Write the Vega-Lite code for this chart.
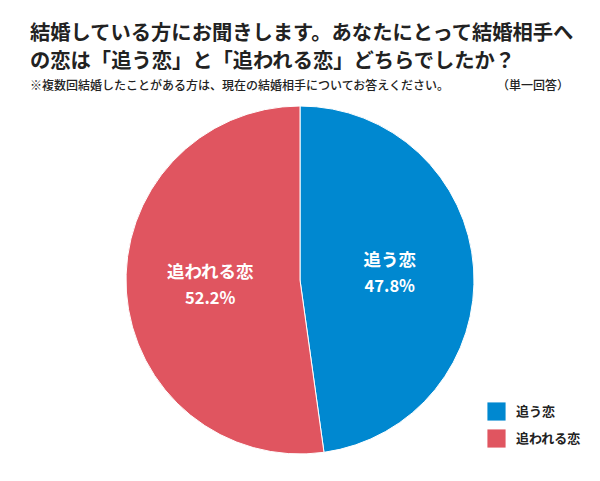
{
  "$schema": "https://vega.github.io/schema/vega-lite/v6.json",
  "width": 600,
  "height": 481,
  "autosize": {"type": "fit", "contains": "padding"},
  "padding": {"left": 0, "right": 0, "top": 23, "bottom": 15},
  "background": "white",
  "config": {"view": {"stroke": null}, "font": "Noto Sans CJK JP"},
  "title": {
    "text": ["結婚している方にお聞きします。あなたにとって結婚相手へ", "の恋は「追う恋」と「追われる恋」どちらでしたか？"],
    "subtitle": "※複数回結婚したことがある方は、現在の結婚相手についてお答えください。　　　　　（単一回答）",
    "anchor": "start",
    "dx": 30,
    "fontSize": 20.3,
    "fontWeight": "bold",
    "lineHeight": 28,
    "color": "#222222",
    "subtitleFontSize": 12,
    "subtitleFontWeight": 500,
    "subtitleColor": "#222222",
    "subtitlePadding": 9,
    "offset": 2
  },
  "data": {
    "values": [
      {"category": "追う恋", "value": 47.8, "pct": "47.8%", "ord": 1},
      {"category": "追われる恋", "value": 52.2, "pct": "52.2%", "ord": 2}
    ]
  },
  "encoding": {
    "theta": {"field": "value", "type": "quantitative", "stack": true},
    "order": {"field": "ord", "type": "quantitative"}
  },
  "layer": [
    {
      "mark": {"type": "arc", "outerRadius": 174, "stroke": "white", "strokeWidth": 1},
      "encoding": {
        "color": {
          "field": "category",
          "type": "nominal",
          "sort": ["追う恋", "追われる恋"],
          "scale": {"domain": ["追う恋", "追われる恋"], "range": ["#0088D0", "#E05560"]},
          "legend": {
            "title": null,
            "orient": "bottom-right",
            "symbolType": "square",
            "symbolSize": 330,
            "symbolStrokeWidth": 0,
            "labelFontSize": 13,
            "labelFontWeight": "bold",
            "labelColor": "#222222",
            "labelOffset": 10,
            "rowPadding": 8,
            "offset": 18
          }
        }
      }
    },
    {
      "mark": {"type": "text", "radius": 90, "dy": -13, "fontSize": 17.5, "fontWeight": "bold", "color": "white"},
      "encoding": {"text": {"field": "category"}}
    },
    {
      "mark": {"type": "text", "radius": 90, "dy": 13, "fontSize": 16.5, "fontWeight": "bold", "color": "white"},
      "encoding": {"text": {"field": "pct"}}
    }
  ]
}
